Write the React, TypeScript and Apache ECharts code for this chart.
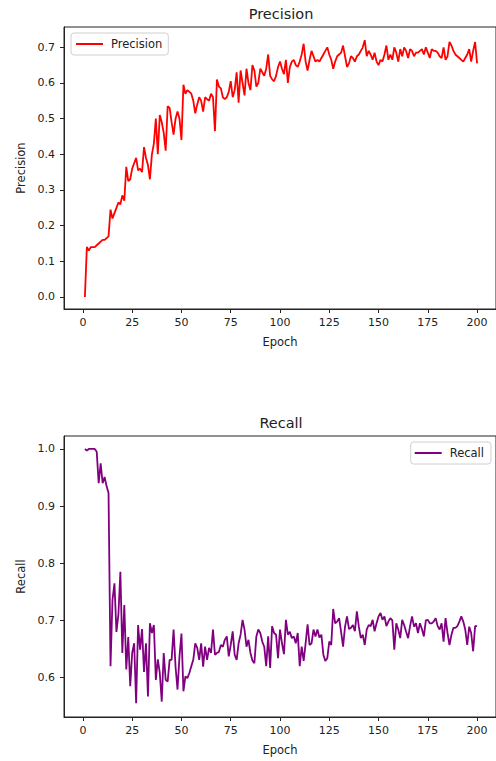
import React, { useEffect, useRef } from 'react';
import * as echarts from 'echarts';

const precision = [
  0.0, 0.14, 0.13, 0.14, 0.14, 0.14, 0.145, 0.15, 0.155, 0.16,
  0.16, 0.165, 0.17, 0.245, 0.22, 0.235, 0.25, 0.265, 0.26, 0.285,
  0.27, 0.365, 0.325, 0.33, 0.36, 0.375, 0.39, 0.355, 0.36, 0.35,
  0.42, 0.39, 0.37, 0.33, 0.4, 0.43, 0.5, 0.4, 0.51, 0.49,
  0.46, 0.41, 0.535, 0.53, 0.49, 0.455, 0.5, 0.52, 0.5, 0.44,
  0.595, 0.57, 0.58, 0.575, 0.57, 0.55, 0.515, 0.54, 0.56, 0.55,
  0.52, 0.56, 0.555, 0.55, 0.57, 0.56, 0.465, 0.61, 0.59, 0.585,
  0.56, 0.555, 0.56, 0.575, 0.605, 0.56, 0.58, 0.63, 0.545, 0.635,
  0.6, 0.565, 0.64, 0.6, 0.58, 0.65, 0.635, 0.59, 0.6, 0.64,
  0.63, 0.62, 0.64, 0.68, 0.62, 0.61, 0.605, 0.62, 0.645, 0.66,
  0.64, 0.625, 0.665, 0.6, 0.645, 0.66, 0.665, 0.65, 0.645, 0.66,
  0.68, 0.71, 0.66, 0.635, 0.665, 0.69, 0.675, 0.66, 0.665, 0.66,
  0.67, 0.68, 0.69, 0.7, 0.68, 0.665, 0.64, 0.66, 0.675, 0.68,
  0.685, 0.705, 0.675, 0.645, 0.655, 0.675, 0.67, 0.66, 0.675, 0.68,
  0.69, 0.7, 0.72, 0.675, 0.69, 0.68, 0.665, 0.685, 0.66, 0.65,
  0.665, 0.66, 0.68, 0.705, 0.665, 0.68, 0.665, 0.7, 0.685, 0.66,
  0.695, 0.675, 0.7, 0.69, 0.67, 0.695, 0.69, 0.675, 0.685, 0.685,
  0.69, 0.695, 0.68, 0.7, 0.685, 0.67, 0.695, 0.69, 0.69, 0.685,
  0.675, 0.67, 0.7, 0.665, 0.675, 0.715, 0.705, 0.69, 0.68, 0.675,
  0.67, 0.665, 0.66, 0.67, 0.68, 0.695, 0.66, 0.69, 0.715, 0.655,
];

const recall = [
  1.0, 0.997, 1.0, 1.0, 1.0, 1.0, 0.995, 0.94, 0.975, 0.94,
  0.951, 0.935, 0.923, 0.62, 0.736, 0.765, 0.68, 0.71, 0.785, 0.643,
  0.727, 0.614, 0.671, 0.585, 0.643, 0.66, 0.555, 0.692, 0.649, 0.685,
  0.61, 0.66, 0.567, 0.695, 0.678, 0.692, 0.596, 0.632, 0.608, 0.558,
  0.643, 0.596, 0.593, 0.631, 0.631, 0.684, 0.619, 0.579, 0.637, 0.677,
  0.576, 0.602, 0.599, 0.608, 0.62, 0.631, 0.66, 0.652, 0.631, 0.66,
  0.619, 0.654, 0.631, 0.652, 0.643, 0.684, 0.64, 0.643, 0.645, 0.657,
  0.654, 0.666, 0.672, 0.637, 0.657, 0.681, 0.64, 0.631, 0.66, 0.675,
  0.701, 0.684, 0.654, 0.666, 0.643, 0.63, 0.625, 0.672, 0.684, 0.678,
  0.663, 0.654, 0.62, 0.672, 0.617, 0.69, 0.678, 0.675, 0.634, 0.684,
  0.66, 0.641, 0.701, 0.675, 0.68, 0.669, 0.672, 0.66, 0.678, 0.62,
  0.654, 0.629, 0.66, 0.693, 0.657, 0.66, 0.684, 0.672, 0.684, 0.67,
  0.675, 0.64, 0.629, 0.634, 0.663, 0.657, 0.72, 0.695, 0.698, 0.704,
  0.68, 0.654, 0.689, 0.707, 0.685, 0.687, 0.692, 0.681, 0.716, 0.689,
  0.669, 0.675, 0.657, 0.684, 0.692, 0.69, 0.701, 0.681, 0.695, 0.707,
  0.713, 0.701, 0.707, 0.69, 0.698, 0.704, 0.7, 0.649, 0.695, 0.684,
  0.669, 0.701, 0.692, 0.68, 0.669, 0.69, 0.707, 0.689, 0.695, 0.678,
  0.695, 0.685, 0.672, 0.7, 0.701, 0.695, 0.695, 0.698, 0.704, 0.69,
  0.684, 0.695, 0.663, 0.704, 0.678, 0.657, 0.675, 0.687, 0.687, 0.69,
  0.698, 0.707, 0.698, 0.684, 0.657, 0.689, 0.678, 0.646, 0.69, 0.69,
];

const epochs = precision.map((_, i) => i + 1);
const xTicks = [0, 25, 50, 75, 100, 125, 150, 175, 200];
const precisionTicks = [0.0, 0.1, 0.2, 0.3, 0.4, 0.5, 0.6, 0.7];
const recallTicks = [0.6, 0.7, 0.8, 0.9, 1.0];

const FONT = 'DejaVu Sans';
const INK = '#222';

function xAxisFor(gridIndex: number) {
  return {
    type: 'value',
    gridIndex,
    min: -9.6,
    max: 209.6,
    name: 'Epoch',
    nameLocation: 'middle',
    nameGap: 27,
    nameTextStyle: { color: INK, fontSize: 11.5, fontFamily: FONT },
    axisLine: { show: true, onZero: false, lineStyle: { color: INK, width: 1 } },
    axisTick: { show: true, length: 4, lineStyle: { color: INK, width: 1 }, customValues: xTicks },
    axisLabel: { customValues: xTicks, color: INK, fontSize: 11, fontFamily: FONT, margin: 8 },
    splitLine: { show: false },
  };
}

function yAxisFor(gridIndex: number, name: string, min: number, max: number, ticks: number[]) {
  return {
    type: 'value',
    gridIndex,
    min,
    max,
    name,
    nameLocation: 'middle',
    nameGap: 36,
    nameTextStyle: { color: INK, fontSize: 11.5, fontFamily: FONT },
    axisLine: { show: true, onZero: false, lineStyle: { color: INK, width: 1 } },
    axisTick: { show: true, length: 4, lineStyle: { color: INK, width: 1 }, customValues: ticks },
    axisLabel: {
      customValues: ticks,
      color: INK,
      fontSize: 11,
      fontFamily: FONT,
      margin: 9,
      formatter: (v: number) => v.toFixed(1),
    },
    splitLine: { show: false },
  };
}

export default function App() {
  const ref = useRef<HTMLDivElement>(null);
  useEffect(() => {
    if (!ref.current) return;
    const chart = echarts.init(ref.current, null, { renderer: 'svg' });
    const legendBase = {
      orient: 'horizontal',
      icon: 'rect',
      itemWidth: 27,
      itemHeight: 2,
      backgroundColor: 'rgba(255,255,255,0.8)',
      borderColor: '#d0d0d0',
      borderWidth: 1,
      borderRadius: 3,
      textStyle: { color: INK, fontSize: 11.5, fontFamily: FONT, padding: [0, 0, 0, 3] },
    };
    chart.setOption({
      animation: false,
      backgroundColor: '#fff',
      title: [
        {
          text: 'Precision',
          left: 281,
          top: 6,
          textAlign: 'center',
          padding: 0,
          textStyle: { color: INK, fontSize: 14.5, fontWeight: 'normal', fontFamily: FONT },
        },
        {
          text: 'Recall',
          left: 281,
          top: 415,
          textAlign: 'center',
          padding: 0,
          textStyle: { color: INK, fontSize: 14.5, fontWeight: 'normal', fontFamily: FONT },
        },
      ],
      legend: [
        { ...legendBase, data: ['Precision'], left: 71, top: 33, padding: [5, 6, 5, 5] },
        { ...legendBase, data: ['Recall'], right: 5, top: 442, padding: [5, 7, 5, 4] },
      ],
      grid: [
        { left: 64, top: 27, width: 434, height: 282, show: true, borderColor: INK, borderWidth: 1, backgroundColor: 'transparent' },
        { left: 64, top: 436, width: 434, height: 281, show: true, borderColor: INK, borderWidth: 1, backgroundColor: 'transparent' },
      ],
      xAxis: [xAxisFor(0), xAxisFor(1)],
      yAxis: [
        yAxisFor(0, 'Precision', -0.0337, 0.757, precisionTicks),
        yAxisFor(1, 'Recall', 0.531, 1.0227, recallTicks),
      ],
      series: [
        {
          name: 'Precision',
          type: 'line',
          xAxisIndex: 0,
          yAxisIndex: 0,
          symbol: 'none',
          data: epochs.map((e, i) => [e, precision[i]]),
          lineStyle: { color: '#ff0000', width: 1.8 },
          itemStyle: { color: '#ff0000' },
        },
        {
          name: 'Recall',
          type: 'line',
          xAxisIndex: 1,
          yAxisIndex: 1,
          symbol: 'none',
          data: epochs.map((e, i) => [e, recall[i]]),
          lineStyle: { color: '#800080', width: 1.8 },
          itemStyle: { color: '#800080' },
        },
      ],
    });
    return () => chart.dispose();
  }, []);
  return (
    <div
      ref={ref}
      style={{ position: 'absolute', left: 0, top: 0, width: 496, height: 761, background: '#fff' }}
    />
  );
}
